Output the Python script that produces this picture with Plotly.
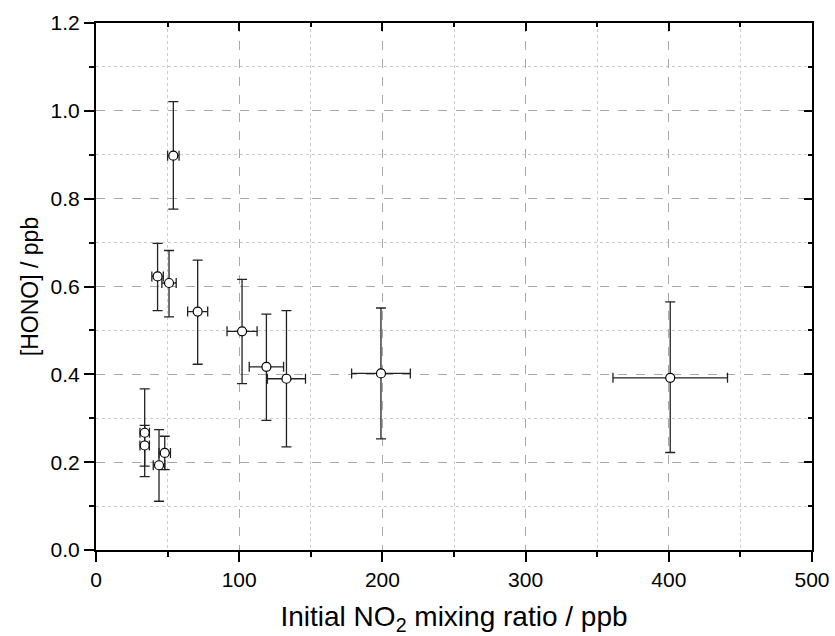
import plotly.graph_objects as go

# initial NO2 (ppb) and HONO (ppb) with error bars
no2 = [54, 43, 51, 71, 102, 119, 133, 199, 401, 34, 34, 44, 48]
no2_err = [4, 4, 5, 7, 10.5, 12, 13.3, 20.5, 40, 3.3, 3.3, 4, 4]
hono = [0.898, 0.623, 0.608, 0.543, 0.498, 0.417, 0.390, 0.402, 0.392, 0.267, 0.238, 0.193, 0.221]
hono_err_up = [0.123, 0.075, 0.074, 0.117, 0.118, 0.120, 0.155, 0.149, 0.173, 0.100, 0.046, 0.081, 0.038]
hono_err_dn = [0.122, 0.078, 0.077, 0.120, 0.119, 0.122, 0.155, 0.149, 0.170, 0.100, 0.047, 0.082, 0.038]

SANS = 'Arial, Liberation Sans, sans-serif'
MAJOR_GRID = '#a8a8a8'
MINOR_GRID = '#cccccc'

fig = go.Figure()

fig.add_trace(go.Scatter(
    x=no2, y=hono, mode='markers',
    marker=dict(symbol='circle', size=9, color='white', line=dict(color='black', width=1.2)),
    error_x=dict(type='data', array=no2_err, color='#222222', thickness=1.3, width=5),
    error_y=dict(type='data', array=hono_err_up, arrayminus=hono_err_dn, symmetric=False,
                 color='#222222', thickness=1.3, width=5),
    showlegend=False, hoverinfo='x+y'))

# dummy trace so the mirrored top/right axes (ticks pointing inward) are drawn
fig.add_trace(go.Scatter(x=[None], y=[None], xaxis='x2', yaxis='y2', showlegend=False, hoverinfo='skip'))

fig.update_layout(
    width=835, height=636,
    plot_bgcolor='white', paper_bgcolor='white',
    margin=dict(l=96, r=23, t=23, b=86),
    font=dict(family=SANS, color='black'),
    xaxis=dict(
        range=[0, 500], dtick=100, tick0=0, automargin=False,
        ticks='outside', ticklen=10, tickwidth=1.5, tickcolor='black',
        tickfont=dict(family=SANS, size=21),
        showline=True, linecolor='black', linewidth=2, mirror=True,
        showgrid=True, gridcolor=MAJOR_GRID, griddash='dash', gridwidth=1,
        minor=dict(dtick=50, ticks='outside', ticklen=5, tickcolor='black', tickwidth=1.5,
                   showgrid=True, gridcolor=MINOR_GRID, griddash='dot', gridwidth=1),
        zeroline=False,
        title=dict(text='Initial NO<sub>2</sub> mixing ratio / ppb', font=dict(family=SANS, size=28), standoff=18),
    ),
    yaxis=dict(
        range=[0, 1.2], dtick=0.2, tick0=0, tickformat='.1f', automargin=False,
        ticks='outside', ticklen=10, tickwidth=1.5, tickcolor='black',
        tickfont=dict(family=SANS, size=21),
        showline=True, linecolor='black', linewidth=2, mirror=True,
        showgrid=True, gridcolor=MAJOR_GRID, griddash='dash', gridwidth=1,
        minor=dict(dtick=0.1, ticks='outside', ticklen=5, tickcolor='black', tickwidth=1.5,
                   showgrid=True, gridcolor=MINOR_GRID, griddash='dot', gridwidth=1),
        zeroline=False,
        title=dict(text='[HONO] / ppb', font=dict(family=SANS, size=23), standoff=6),
    ),
    xaxis2=dict(
        overlaying='x', side='top', matches='x', range=[0, 500], dtick=100, automargin=False,
        ticks='inside', ticklen=8, tickwidth=1.5, tickcolor='black',
        showticklabels=False, showgrid=False, zeroline=False, showline=False,
        minor=dict(dtick=50, ticks='inside', ticklen=4, tickcolor='black', tickwidth=1.5, showgrid=False),
    ),
    yaxis2=dict(
        overlaying='y', side='right', matches='y', range=[0, 1.2], dtick=0.2, automargin=False,
        ticks='inside', ticklen=8, tickwidth=1.5, tickcolor='black',
        showticklabels=False, showgrid=False, zeroline=False, showline=False,
        minor=dict(dtick=0.1, ticks='inside', ticklen=4, tickcolor='black', tickwidth=1.5, showgrid=False),
    ),
)

# the page body has a default 8px margin which would push the chart off the window
fig.write_html("out.html", config={'displayModeBar': False},
               post_script="document.body.style.margin='0';")
